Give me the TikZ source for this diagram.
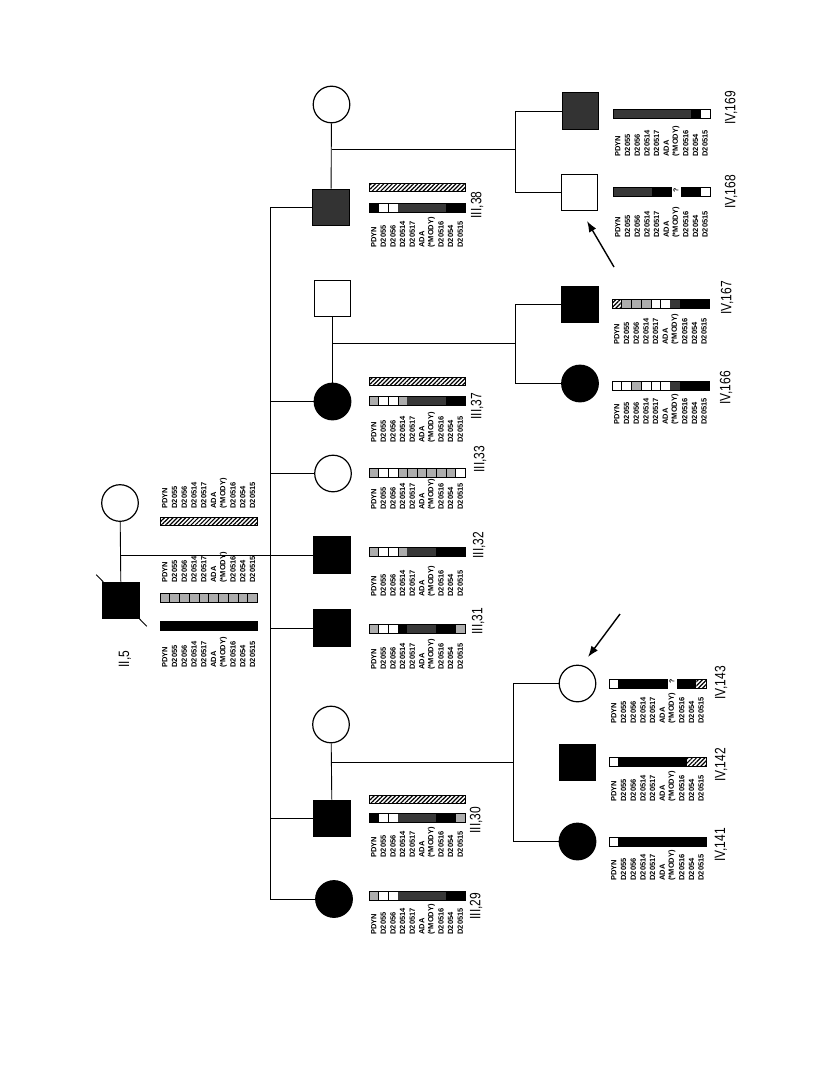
\documentclass[tikz,border=0pt]{standalone}
\usepackage{fontspec}
\setmainfont{Liberation Sans}
\usetikzlibrary{patterns,patterns.meta,arrows.meta,calc}
\newcommand\mody{(*MODY)}
\newcommand\mklist[4]{%
  \foreach \t [count=\i from 0] in {PDYN,D2055,D2056,D20514,D20517,ADA,\mody,D20516,D2054,D20515}
    \node[mk] (#1m\i) at ({#2+(\i+0.5)*#3},#4) {\t};}
\newcommand\haplo[5]{%
  \foreach \c [count=\i from 0] in {#5}
    \path[seg\c] ({#1+\i*#2},{#3-4.5}) rectangle ({#1+(\i+1)*#2},{#3+4.5});
  \draw[outline] ({#1},{#3-4.5}) rectangle ({#1+#4*#2},{#3+4.5});}
\newcommand\hatchbar[3]{%
  \draw[hatched] ({#1},{#3-4}) rectangle ({#1+#2},{#3+4});}
\newcommand\lbl[1]{\scalebox{0.8}[1]{#1}}
\begin{document}
\begin{tikzpicture}[x=1pt,y=-1pt,line width=0.9pt,
  sq/.style={draw,rectangle,line width=1.2pt,minimum size=36.5pt,inner sep=0pt},
  ci/.style={draw,circle,line width=1.2pt,minimum size=36.6pt,inner sep=0pt},
  aff/.style={fill=black},
  part/.style={fill=black!80},
  segW/.style={fill=white,draw=black,line width=0.6pt},
  segS/.style={fill=black!32,draw=black,line width=0.6pt},
  segD/.style={fill=black!78},
  segB/.style={fill=black},
  segH/.style={pattern={Lines[angle=45,distance=3pt,line width=1.2pt]}},
  segN/.style={},
  hatched/.style={draw,line width=0.8pt,pattern={Lines[angle=45,distance=3pt,line width=1.2pt]}},
  outline/.style={draw,line width=0.8pt},
  mk/.style={rotate=90,anchor=west,inner sep=0pt,font=\fontsize{7.5}{9}\selectfont\bfseries},
  lab/.style={rotate=90,inner sep=0pt,font=\fontsize{15}{15}\selectfont},
  qm/.style={rotate=90,inner sep=0pt,font=\fontsize{7}{7}\selectfont\bfseries},
  arr/.style={line width=1.4pt,-{Latex[length=11pt,width=8pt]}}]
\useasboundingbox (0,0) rectangle (816,1081);
% ---------- generation II
\node[ci] (II5w) at (120,503) {};
\node[sq,aff] (II5) at (121,600.5) {};
\draw (II5w) -- (II5);
\draw ($(II5.north west)+(-6,-7)$) -- ($(II5.south east)+(7,7)$);
\node[lab] (lII5) at (125,659) {\lbl{II,5}};
\mklist{sp5}{160}{9.75}{509}
\hatchbar{160}{97.5}{521}
\mklist{a5}{160}{9.75}{583}
\haplo{160}{9.75}{597.5}{10}{S,S,S,S,S,S,S,S,S,S}
\haplo{160}{9.75}{626}{10}{B,B,B,B,B,B,B,B,B,B}
\mklist{b5}{160}{9.75}{668}
% ---------- generation III
\node[ci] (III38w) at (331.5,104.5) {};
\node[sq,part] (III38) at (331,207.5) {};
\node[sq] (III37h) at (332.5,298.5) {};
\node[ci,aff] (III37) at (332.5,401.5) {};
\node[ci] (III33) at (333,473.5) {};
\node[sq,aff] (III32) at (332,555) {};
\node[sq,aff] (III31) at (332,628) {};
\node[ci] (III30w) at (331,724.5) {};
\node[sq,aff] (III30) at (332,818.5) {};
\node[ci,aff] (III29) at (334,899) {};
\coordinate (sib) at (270,207.5);
\draw (II5w |- III32) -- (III32.west);
\draw (III38.west) -- (sib) -- (sib |- III29.west) -- (III29.west);
\foreach \n in {III37,III33,III31,III30} \draw (\n.west) -- (sib |- \n.west);
% ---------- generation IV
\node[sq,part] (IV169) at (580.5,111) {};
\node[sq] (IV168) at (579.5,192.5) {};
\node[sq,aff] (IV167) at (580,304.5) {};
\node[ci,aff] (IV166) at (580,383.5) {};
\node[ci] (IV143) at (577.5,683.5) {};
\node[sq,aff] (IV142) at (577.5,762.5) {};
\node[ci,aff] (IV141) at (577.5,841.5) {};
% couples and sibships
\draw (III38w) -- (III38);
\coordinate (j38) at (515,149.5);
\draw (III38w |- j38) -- (j38);
\draw (IV169.west) -- (IV169.west -| j38) -- (IV168.west -| j38) -- (IV168.west);
\draw (III37h) -- (III37);
\coordinate (j37) at (515,343);
\draw (III37h |- j37) -- (j37);
\draw (IV167.west) -- (IV167.west -| j37) -- (IV166.west -| j37) -- (IV166.west);
\draw (III30w) -- (III30);
\coordinate (j30) at (513.5,762.5);
\draw (III30w |- j30) -- (j30);
\draw (IV143.west) -- (IV143.west -| j30) -- (IV141.west -| j30) -- (IV141.west);
% probands
\coordinate (a1s) at (614,267);
\coordinate (a1e) at (587,221);
\draw[arr] (a1s) -- (a1e);
\coordinate (a2s) at (620,614);
\coordinate (a2e) at (588,657);
\draw[arr] (a2s) -- (a2e);
% ---------- haplotypes generation III
\hatchbar{369}{96}{187}
\haplo{369}{9.6}{208}{10}{B,W,W,D,D,D,D,D,B,B}
\mklist{m38}{369}{9.6}{248}
\node[lab] (l38) at (477,205) {\lbl{III,38}};
\hatchbar{369}{96}{381}
\haplo{369}{9.6}{400.5}{10}{S,W,W,S,D,D,D,D,B,B}
\mklist{m37}{369}{9.6}{443}
\node[lab] (l37) at (477,406) {\lbl{III,37}};
\haplo{369}{9.6}{473}{10}{S,W,W,S,S,S,S,S,S,W}
\mklist{m33}{369}{9.6}{510}
\node[lab] (l33) at (480,459) {\lbl{III,33}};
\haplo{369}{9.6}{551.5}{10}{S,W,W,S,D,D,D,B,B,B}
\mklist{m32}{369}{9.6}{597}
\node[lab] (l32) at (479,545) {\lbl{III,32}};
\haplo{369}{9.6}{629}{10}{S,W,W,B,D,D,D,B,B,S}
\mklist{m31}{369}{9.6}{670}
\node[lab] (l31) at (478,621) {\lbl{III,31}};
\hatchbar{369}{96}{799}
\haplo{369}{9.6}{817.5}{10}{B,W,W,D,D,D,D,B,B,S}
\mklist{m30}{369}{9.6}{858}
\node[lab] (l30) at (476,820) {\lbl{III,30}};
\haplo{369}{9.6}{896}{10}{S,W,W,D,D,D,D,D,B,B}
\mklist{m29}{369}{9.6}{935}
\node[lab] (l29) at (476,906) {\lbl{III,29}};
% ---------- haplotypes generation IV
\haplo{613}{9.7}{113.5}{10}{D,D,D,D,D,D,D,D,B,W}
\mklist{m169}{613}{9.7}{157}
\node[lab] (l169) at (731,108) {\lbl{IV,169}};
\haplo{613}{9.7}{192}{6}{D,D,D,D,B,B}
\node[qm] (q168) at (676,190) {?};
\haplo{680.9}{9.7}{192}{3}{B,B,W}
\mklist{m168}{613}{9.7}{238}
\node[lab] (l168) at (731,192) {\lbl{IV,168}};
\haplo{612}{9.7}{303.5}{10}{H,S,S,S,W,W,D,B,B,B}
\mklist{m167}{612}{9.7}{345}
\node[lab] (l167) at (727,298) {\lbl{IV,167}};
\haplo{612}{9.7}{386}{10}{W,W,S,W,W,W,D,B,B,B}
\mklist{m166}{612}{9.7}{425}
\node[lab] (l166) at (726,388) {\lbl{IV,166}};
\haplo{609}{9.7}{683.5}{6}{W,B,B,B,B,B}
\node[qm] (q143) at (672,681) {?};
\haplo{676.9}{9.7}{683.5}{3}{B,B,H}
\mklist{m143}{609}{9.7}{724}
\node[lab] (l143) at (721,683) {\lbl{IV,143}};
\haplo{609}{9.7}{762}{10}{W,B,B,B,B,B,B,B,H,H}
\mklist{m142}{609}{9.7}{802}
\node[lab] (l142) at (721,765) {\lbl{IV,142}};
\haplo{609}{9.7}{841.5}{10}{W,B,B,B,B,B,B,B,B,B}
\mklist{m141}{609}{9.7}{881}
\node[lab] (l141) at (721,845) {\lbl{IV,141}};
\end{tikzpicture}
\end{document}
